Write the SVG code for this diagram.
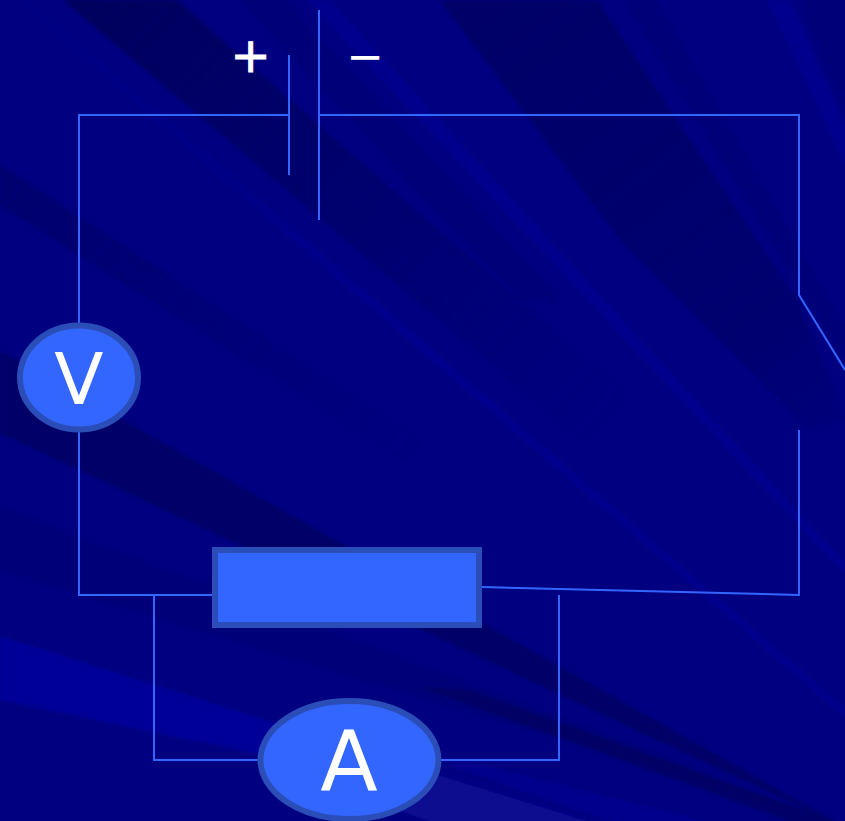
<svg xmlns="http://www.w3.org/2000/svg" width="845" height="821" viewBox="0 0 845 821">
<style>
.w{fill:none;stroke:#3366ff;stroke-width:2;stroke-linejoin:miter}
.n{fill:#3366ff;stroke:#2a4db8;stroke-width:6}
.t{font-family:"DejaVu Sans",sans-serif;fill:#fff;text-anchor:middle}
.p{stroke:#fff;stroke-width:1}
.d{fill:#000058;opacity:.6}
.e{fill:#000058;opacity:.2}
.b{fill:#00009c;opacity:.45}
</style>
<defs>
<filter id="s" x="-5%" y="-5%" width="110%" height="110%"><feGaussianBlur stdDeviation="1.5"/></filter>
<linearGradient id="fadeA" gradientUnits="userSpaceOnUse" x1="100" y1="0" x2="600" y2="430">
<stop offset="0" stop-color="#000058" stop-opacity=".85"/>
<stop offset="1" stop-color="#000058" stop-opacity="0"/>
</linearGradient>
<linearGradient id="fadeB" gradientUnits="userSpaceOnUse" x1="0" y1="170" x2="420" y2="450">
<stop offset="0" stop-color="#000058" stop-opacity=".45"/>
<stop offset="1" stop-color="#000058" stop-opacity="0"/>
</linearGradient>
<linearGradient id="fadeC" gradientUnits="userSpaceOnUse" x1="500" y1="0" x2="860" y2="480">
<stop offset="0" stop-color="#000058" stop-opacity=".6"/>
<stop offset=".7" stop-color="#000058" stop-opacity=".4"/>
<stop offset="1" stop-color="#000058" stop-opacity="0"/>
</linearGradient>
<linearGradient id="fadeS" gradientUnits="userSpaceOnUse" x1="15" y1="0" x2="845" y2="713">
<stop offset="0" stop-color="#00009c" stop-opacity=".05"/>
<stop offset=".45" stop-color="#00009c" stop-opacity=".45"/>
<stop offset="1" stop-color="#00009c" stop-opacity=".45"/>
</linearGradient>
</defs>
<rect width="845" height="821" fill="#000080"/>
<g id="background" filter="url(#s)">
<polygon points="63,0 177,0 845,588 845,664" fill="url(#fadeA)"/>
<polygon points="440,0 597,0 797,300 845,420 810,430 620,240" fill="url(#fadeC)"/>
<polygon class="e" points="240,0 285,0 560,300 520,300"/>
<polygon class="e" points="625,0 655,0 845,330 845,360"/>
<polygon class="e" points="800,0 845,0 845,110"/>
<polygon points="0,165 0,205 420,470 420,440" fill="url(#fadeB)"/>
<polygon class="d" points="0,351 0,433 850,830"/>
<polygon class="e" points="0,507 0,570 845,825"/>
<polygon class="d" points="420,687 470,690 845,825 800,825"/>
<polygon points="15,0 30,0 845,708 845,718" fill="url(#fadeS)"/>
<polygon class="b" points="307,0 330,0 845,563 845,575"/>
<polygon class="b" points="767,0 790,0 845,125 845,165"/>
<polygon points="0,636 432,773 600,825 0,700" fill="#000098"/>
<polygon points="432,773 600,825 440,825 340,790" fill="#0a0a90"/>
<polygon class="b" points="440,762 470,762 720,825 620,825"/>
</g>
<g id="connectors">
<path class="w" d="M289 115H79V325"/>
<path class="w" d="M319 115H799V295L845 370"/>
<path class="w" d="M799 430V595L482 587"/>
<path class="w" d="M79 432V595H213"/>
<path class="w" d="M154 595V760H260"/>
<path class="w" d="M559 595V760H440"/>
</g>
<g id="battery">
<path class="w" d="M289 55V175"/>
<path class="w" d="M319 10V220"/>
<text class="t p" x="250.500" y="72" font-size="48">+</text>
<text class="t" x="365" y="71.500" font-size="45">−</text>
</g>
<g id="voltmeter">
<ellipse class="n" cx="79" cy="377.500" rx="59" ry="52"/>
<text class="t" x="79" y="404" font-size="72">V</text>
</g>
<g id="resistor">
<rect class="n" x="215" y="550" width="264" height="75"/>
</g>
<g id="ammeter">
<ellipse class="n" cx="349.500" cy="760" rx="89" ry="59"/>
<text class="t" x="349" y="791" font-size="84">A</text>
</g>
</svg>
